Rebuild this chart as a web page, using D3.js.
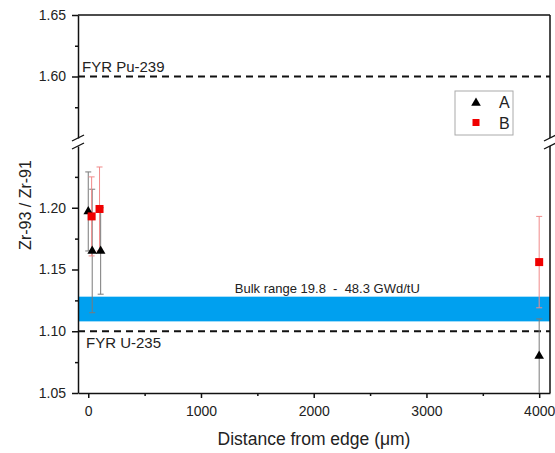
<!DOCTYPE html>
<html><head><meta charset="utf-8">
<script src="https://cdn.jsdelivr.net/npm/d3@7"></script>
<style>body{margin:0;background:#fff}text{font-family:"Liberation Sans",Arial,sans-serif;fill:#222}</style>
</head><body><svg id="c" width="555" height="453"></svg>
<script>
// data
const seriesA_x = [0, 35, 110, 4000];
const seriesA_y = [1.197, 1.165, 1.165, 1.080];
const seriesA_err = [0.032, 0.050, 0.035, 0.030];
const seriesB_x = [30, 100, 4000];
const seriesB_y = [1.193, 1.199, 1.156];
const seriesB_err = [0.032, 0.034, 0.037];
const bulkRange = [1.108, 1.128];
const refLines = [{label: "FYR Pu-239", value: 1.60}, {label: "FYR U-235", value: 1.10}];
const xTicks = [0, 1000, 2000, 3000, 4000];
const xMinor = [500, 1500, 2500, 3500];
const yTicksLow = [1.05, 1.10, 1.15, 1.20];
const yMinorLow = [1.075, 1.125, 1.175, 1.225];
const yTicksHigh = [1.60, 1.65];
const yMinorHigh = [1.575, 1.625];

const svg = d3.select("#c");
const L = 78, R = 550, T = 15, B = 393;
const x = d3.scaleLinear().domain([-91, 4096]).range([L, R]);
const yLow = d3.scaleLinear().domain([1.05, 1.25]).range([B, 146]);
const yHigh = d3.scaleLinear().domain([1.55, 1.65]).range([138, T]);
const y = v => v >= 1.4 ? yHigh(v) : yLow(v);

// bulk band
svg.append("rect").attr("x", L).attr("width", R - L)
  .attr("y", yLow(bulkRange[1])).attr("height", yLow(bulkRange[0]) - yLow(bulkRange[1]))
  .attr("fill", "#00a0ef");
svg.append("text").attr("x", x(1300)).attr("y", yLow(1.131)).attr("font-size", 13)
  .attr("xml:space", "preserve").style("white-space", "pre")
  .text("Bulk range 19.8  -  48.3 GWd/tU");

// reference dashed lines
refLines.forEach(r => {
  svg.append("line").attr("x1", L).attr("x2", R).attr("y1", y(r.value)).attr("y2", y(r.value))
    .attr("stroke", "#111").attr("stroke-width", 1.8).attr("stroke-dasharray", "7,5");
});
svg.append("text").attr("x", 82).attr("y", y(1.60) - 5).attr("font-size", 15).text(refLines[0].label);
svg.append("text").attr("x", 86).attr("y", y(1.10) + 17).attr("font-size", 15).text(refLines[1].label);

// axes
const gx = svg.append("g").attr("transform", `translate(0,${B})`);
gx.call(d3.axisBottom(x).tickValues(xTicks).tickFormat(d3.format("d")).tickSize(5).tickSizeOuter(0).tickPadding(8));
gx.append("g").call(d3.axisBottom(x).tickValues(xMinor).tickSize(3).tickFormat(""))
  .select(".domain").remove();
const gyl = svg.append("g").attr("transform", `translate(${L},0)`);
gyl.call(d3.axisLeft(yLow).tickValues(yTicksLow).tickFormat(d3.format(".2f")).tickSize(6).tickSizeOuter(0).tickPadding(6));
gyl.append("g").call(d3.axisLeft(yLow).tickValues(yMinorLow).tickSize(3).tickFormat("")).select(".domain").remove();
const gyh = svg.append("g").attr("transform", `translate(${L},0)`);
gyh.call(d3.axisLeft(yHigh).tickValues(yTicksHigh).tickFormat(d3.format(".2f")).tickSize(6).tickSizeOuter(0).tickPadding(6));
gyh.append("g").call(d3.axisLeft(yHigh).tickValues(yMinorHigh).tickSize(3).tickFormat("")).select(".domain").remove();
svg.selectAll(".tick text").attr("font-size", 14).style("font-family", "Liberation Sans, Arial").attr("fill", "#222");
svg.selectAll(".domain, .tick line").attr("stroke", "#111").attr("stroke-width", 1.5);

// frame: top and right
svg.append("line").attr("x1", L).attr("x2", R).attr("y1", T).attr("y2", T).attr("stroke", "#111").attr("stroke-width", 1.5);
svg.append("line").attr("x1", R).attr("x2", R).attr("y1", T).attr("y2", yHigh(1.55)).attr("stroke", "#111").attr("stroke-width", 1.5);
svg.append("line").attr("x1", R).attr("x2", R).attr("y1", yLow(1.25)).attr("y2", B).attr("stroke", "#111").attr("stroke-width", 1.5);
// break marks
[L, R].forEach(cx => {
  [yHigh(1.55), yLow(1.25)].forEach(cy => {
    svg.append("line").attr("x1", cx - 6).attr("x2", cx + 6).attr("y1", cy + 3).attr("y2", cy - 3)
      .attr("stroke", "#111").attr("stroke-width", 1.3);
  });
});

// error bars + markers
function errBars(xs, ys, es, color) {
  const g = svg.append("g");
  xs.forEach((xv, i) => {
    const cx = x(xv), y1 = y(ys[i] + es[i]), y0 = Math.min(y(ys[i] - es[i]), B);
    g.append("line").attr("x1", cx).attr("x2", cx).attr("y1", y1).attr("y2", y0).attr("stroke", color).attr("stroke-width", 1);
    g.append("line").attr("x1", cx - 3).attr("x2", cx + 3).attr("y1", y1).attr("y2", y1).attr("stroke", color).attr("stroke-width", 1);
    if (y0 < B - 1)
      g.append("line").attr("x1", cx - 3).attr("x2", cx + 3).attr("y1", y0).attr("y2", y0).attr("stroke", color).attr("stroke-width", 1);
  });
}
errBars(seriesA_x, seriesA_y, seriesA_err, "#7a7a7a");
errBars(seriesB_x, seriesB_y, seriesB_err, "#f08a8a");
const tri = d3.symbol().type(d3.symbolTriangle).size(40);
svg.append("g").selectAll("path").data(seriesA_x).join("path")
  .attr("d", tri).attr("transform", (d, i) => `translate(${x(d)},${y(seriesA_y[i])})`).attr("fill", "#000");
svg.append("g").selectAll("rect").data(seriesB_x).join("rect")
  .attr("x", d => x(d) - 4).attr("y", (d, i) => y(seriesB_y[i]) - 4).attr("width", 8).attr("height", 8).attr("fill", "#f00000");

// legend
const lg = svg.append("g");
lg.append("rect").attr("x", 455).attr("y", 91).attr("width", 58).attr("height", 44).attr("fill", "#fff").attr("stroke", "#aaa").attr("stroke-width", 1);
lg.append("path").attr("d", tri).attr("transform", "translate(476,103)").attr("fill", "#000");
lg.append("rect").attr("x", 472.5).attr("y", 119).attr("width", 7).attr("height", 7).attr("fill", "#f00000");
lg.append("text").attr("x", 499).attr("y", 108).attr("font-size", 16).text("A");
lg.append("text").attr("x", 499).attr("y", 128.5).attr("font-size", 16).text("B");

// axis titles
svg.append("text").attr("x", 314).attr("y", 445).attr("text-anchor", "middle").attr("font-size", 17.5).text("Distance from edge (\u03bcm)");
svg.append("text").attr("transform", "translate(31,205) rotate(-90)").attr("text-anchor", "middle").attr("font-size", 16).text("Zr-93 / Zr-91");
</script></body></html>
